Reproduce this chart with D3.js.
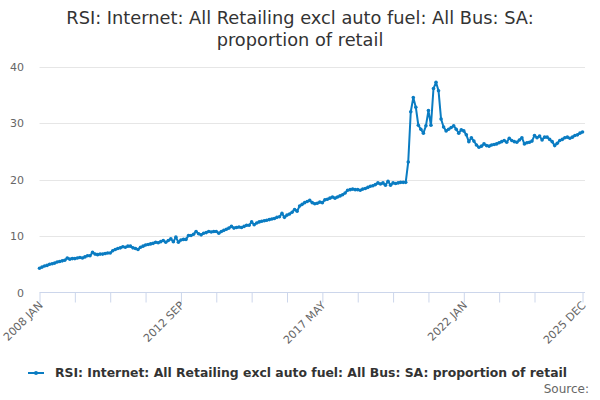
<html>

<head>
    <style>
        body { margin: 0; background: #fff; }
        text { font-family: "DejaVu Sans", sans-serif; }
        .grid line { stroke: #e6e6e6 }
        .tick-label { fill: #666; font-size: 11px }
    </style>
</head>

<body>
    <svg id="container" height="400" width="600">
        <g id="body"></g>
    </svg>
</body>
<script src="https://cdn.jsdelivr.net/npm/d3@7"></script>
<script>
    // series: RSI internet sales as a proportion of retail, monthly from 2008 JAN
    let startYear = 2008
    let monthNames = ["JAN", "FEB", "MAR", "APR", "MAY", "JUN", "JUL", "AUG", "SEP", "OCT", "NOV", "DEC"]
    let values = [
        4.3, 4.5, 4.7, 4.8, 5.0, 5.1, 5.2, 5.4, 5.5, 5.6, 5.7, 6.1,
        5.9, 6.0, 6.0, 6.1, 6.2, 6.1, 6.3, 6.5, 6.5, 7.1, 6.8, 6.7,
        6.8, 6.8, 6.9, 7.0, 7.0, 7.4, 7.6, 7.8, 7.9, 8.1, 8.0, 8.2,
        8.2, 7.9, 7.8, 7.6, 8.0, 8.2, 8.4, 8.5, 8.6, 8.7, 8.9, 8.8,
        9.0, 9.2, 8.9, 9.2, 9.5, 9.0, 9.8, 8.9, 9.3, 9.4, 9.4, 10.1,
        10.1, 10.3, 10.8, 10.4, 10.2, 10.5, 10.6, 10.8, 10.7, 10.8, 10.8, 10.5,
        10.8, 11.0, 11.2, 11.4, 11.7, 11.4, 11.5, 11.6, 11.5, 11.7, 11.9, 11.9,
        12.5, 12.0, 12.3, 12.5, 12.6, 12.7, 12.8, 12.9, 13.0, 13.1, 13.3, 13.4,
        14.0, 13.3, 13.7, 13.9, 14.2, 14.7, 14.4, 15.3, 15.6, 15.9, 16.1, 16.3,
        15.9, 15.7, 15.8, 16.0, 15.9, 16.4, 16.5, 16.7, 16.9, 16.7, 16.9, 17.1,
        17.3, 17.6, 18.1, 18.2, 18.3, 18.2, 18.2, 18.1, 18.3, 18.4, 18.6, 18.8,
        18.9, 19.1, 19.4, 19.2, 19.4, 19.0, 19.7, 19.0, 19.4, 19.3, 19.4, 19.5,
        19.5, 19.5, 23.1, 32.0, 34.5, 32.8, 29.6, 28.9, 28.2, 29.5, 32.2, 29.6,
        36.1, 37.2, 35.7, 30.7, 29.3, 28.6, 28.9, 29.2, 29.5, 28.9, 28.2, 28.8,
        28.6, 27.9, 26.7, 27.4, 26.8, 26.1, 25.7, 25.9, 26.3, 26.0, 25.9, 26.1,
        26.2, 26.3, 26.5, 26.7, 26.9, 26.6, 27.3, 26.9, 26.7, 26.6, 27.0, 27.4,
        26.3, 26.5, 26.6, 26.8, 27.8, 27.4, 27.7, 27.0, 27.5, 27.5, 27.1, 26.7,
        26.0, 26.4, 26.9, 27.1, 27.4, 27.5, 27.3, 27.5, 27.8, 27.9, 28.2, 28.4
    ]
    let yTicks = [0, 10, 20, 30, 40]
    let labelledMonths = [0, 56, 112, 168, 215]
    let seriesName = "RSI: Internet: All Retailing excl auto fuel: All Bus: SA: proportion of retail"
    let titleLines = ["RSI: Internet: All Retailing excl auto fuel: All Bus: SA:", "proportion of retail"]

    let categories = values.map((v, i) => (startYear + Math.floor(i / 12)) + " " + monthNames[i % 12])
    let data = values.map((v, i) => ({ i: i, value: v, label: categories[i] }))

    let svg = d3.select("#container")
    let body = d3.select("#body")
    let color = "#0a7cc2"

    let x = d3.scaleLinear().domain([0, values.length - 1]).range([39.5, 582.5])
    let y = d3.scaleLinear().domain([0, 40]).range([292.5, 66.5])

    // title
    svg.append("text")
        .attr("x", 300).attr("y", 24)
        .attr("text-anchor", "middle")
        .style("font-size", "17.8px").style("fill", "#333")
        .selectAll("tspan").data(titleLines).enter().append("tspan")
        .attr("x", 300).attr("dy", (d, i) => i ? 21.5 : 0)
        .text(d => d)

    // horizontal grid
    body.append("g").attr("class", "grid")
        .selectAll("line").data(yTicks.filter(d => d > 0)).enter().append("line")
        .attr("x1", 39.5).attr("x2", 585)
        .attr("y1", d => Math.round(y(d)) + 0.5).attr("y2", d => Math.round(y(d)) + 0.5)

    // y labels
    body.append("g").selectAll("text").data(yTicks).enter().append("text")
        .attr("class", "tick-label")
        .attr("x", 24).attr("y", d => y(d) + 4)
        .attr("text-anchor", "end")
        .text(d => d)

    // x axis with ticks every 14 months and one at the end
    let tickIdx = d3.range(0, 200, 14).concat([values.length - 1])
    let xAxis = d3.axisBottom(x).tickValues(tickIdx).tickSize(10).tickFormat("")
    let gx = body.append("g").attr("transform", "translate(0,292.5)").call(xAxis)
    gx.select(".domain").attr("stroke", "#ccd6eb").attr("d", "M39.5,0H585")
    gx.selectAll(".tick line").attr("stroke", "#ccd6eb")

    body.append("g").selectAll("text").data(labelledMonths).enter().append("text")
        .attr("class", "tick-label")
        .attr("transform", d => `translate(${x(d) + 4},${306}) rotate(-45)`)
        .attr("text-anchor", "end")
        .text(d => categories[d])

    // the line and its points
    let line = d3.line().x(d => x(d.i)).y(d => y(d.value))
    body.append("path").datum(data)
        .attr("fill", "none").attr("stroke", color)
        .attr("stroke-width", 2).attr("stroke-linejoin", "round")
        .attr("d", line)
    body.append("g").selectAll("circle").data(data).enter().append("circle")
        .attr("cx", d => x(d.i)).attr("cy", d => y(d.value))
        .attr("r", 1.8).attr("fill", color)

    // legend
    let legend = svg.append("g").attr("transform", "translate(300,377)")
    let legendText = legend.append("text")
        .attr("x", 0).attr("y", 0)
        .attr("text-anchor", "middle")
        .style("font-size", "12.4px").style("font-weight", "bold").style("fill", "#333")
        .text(seriesName)
    let w = legendText.node().getComputedTextLength()
    legendText.attr("x", 11)
    legend.append("line")
        .attr("x1", -w / 2 - 16).attr("x2", -w / 2).attr("y1", -4).attr("y2", -4)
        .attr("stroke", color).attr("stroke-width", 2)
    legend.append("circle").attr("cx", -w / 2 - 8).attr("cy", -4).attr("r", 2).attr("fill", color)

    svg.append("text")
        .attr("x", 589).attr("y", 393)
        .attr("text-anchor", "end")
        .style("font-size", "12px").style("fill", "#666")
        .text("Source:")
</script>

</html>
